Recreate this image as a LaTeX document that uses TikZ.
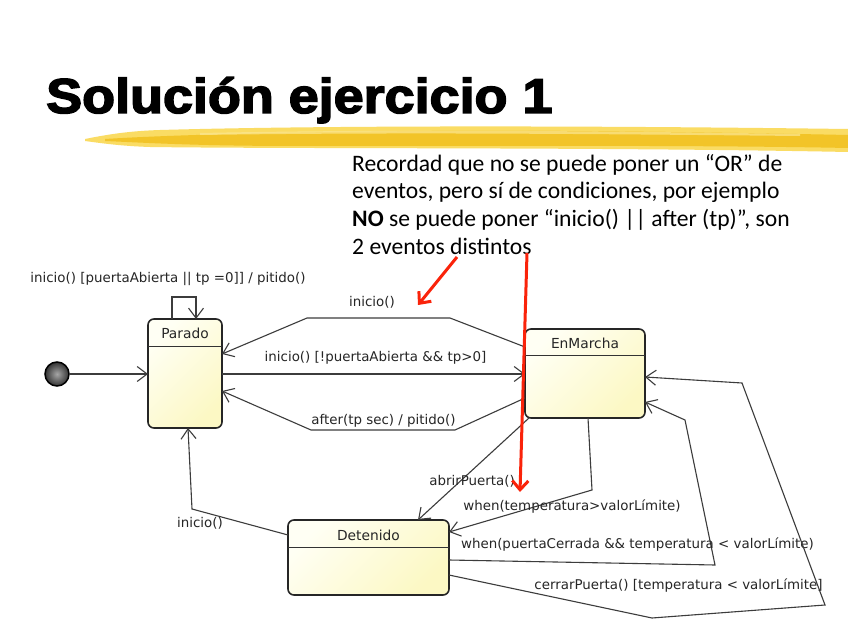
\documentclass[tikz,border=0pt]{standalone}
\usepackage{fontspec}
\setmainfont{DejaVu Sans}
\newfontfamily\notefont{Carlito}
\newfontfamily\titlefont{Liberation Sans}[FakeBold=3]
\usetikzlibrary{arrows.meta,calc}
\definecolor{stlight}{RGB}{255,255,244}
\definecolor{stdark}{RGB}{252,248,196}
\definecolor{edgec}{RGB}{60,60,60}
\definecolor{redc}{RGB}{250,35,10}
\definecolor{brushA}{RGB}{250,220,100}
\definecolor{brushB}{RGB}{242,196,40}
\tikzset{
  st/.style={draw=black!85, line width=1.6pt, rounded corners=6pt, inner sep=0pt, outer sep=0pt,
    shading=axis, top color=stlight, bottom color=stdark, shading angle=45},
  stname/.style={font=\fontsize{13.8}{15}\selectfont, text=black!85},
  divider/.style={draw=black!80, line width=1pt},
  tr/.style={draw=edgec, line width=1.1pt, -{Straight Barb[length=10pt,width=15pt,line width=1.1pt]}},
  lbl/.style={font=\fontsize{13.4}{15}\selectfont, text=black!85, inner sep=0pt},
  redarr/.style={draw=redc, line width=3pt, -{Straight Barb[length=9pt,width=16pt,line width=3pt]}},
  initst/.style={circle, draw=black, line width=1.5pt, minimum size=24pt, inner sep=0pt, outer sep=0pt,
    inner color=black!35, outer color=black!80},
}
\begin{document}
\begin{tikzpicture}[x=1pt,y=-1pt]
\useasboundingbox[fill=white] (0,0) rectangle (848,636);
% brush stroke
\fill[brushA] (85,139) .. controls (110,134) and (130,131) .. (160,130)
  .. controls (300,126) and (540,125) .. (848,129) -- (848,152)
  .. controls (600,147) and (300,149) .. (150,147) .. controls (120,146) and (100,143) .. (85,141) -- cycle;
\fill[brushB] (105,139) .. controls (200,133) and (400,130) .. (560,131)
  .. controls (700,132) and (800,134) .. (848,135) -- (848,148)
  .. controls (700,145) and (500,146) .. (300,146) .. controls (200,146) and (150,143) .. (105,141) -- cycle;
\fill[brushA!70!white, opacity=0.7] (200,133) .. controls (400,129) and (600,131) .. (800,134)
  -- (800,136) .. controls (600,134) and (400,132) .. (200,135) -- cycle;
% title
\node[anchor=base west, inner sep=0pt] (title) at (46,113)
  {\scalebox{1.1}[1]{\titlefont\bfseries\fontsize{49}{55}\selectfont Solución ejercicio 1}};
% note
\node[anchor=north west, inner sep=0pt, align=left,
  font=\notefont\fontsize{23.6}{27.6}\selectfont] (note) at (352,154)
  {Recordad que no se puede poner un “OR” de\\
   eventos, pero sí de condiciones, por ejemplo\\
   \textbf{NO} se puede poner “inicio() || after (tp)”, son\\
   2 eventos distintos};
% states
\node[st, minimum width=74pt, minimum height=109pt] (parado) at (185,373.5) {};
\node[st, minimum width=120pt, minimum height=89pt] (enmarcha) at (585,373.5) {};
\node[st, minimum width=161pt, minimum height=75pt] (detenido) at (368.5,557.5) {};
\draw[divider] (parado.west |- 0,346) -- (parado.east |- 0,346);
\draw[divider] (enmarcha.west |- 0,355) -- (enmarcha.east |- 0,355);
\draw[divider] (detenido.west |- 0,547) -- (detenido.east |- 0,547);
\node[stname] (paradoname) at (185,333) {Parado};
\node[stname] (enmarchaname) at (585,343) {EnMarcha};
\node[stname] (detenidoname) at (368.5,535) {Detenido};
% initial state
\node[initst] (init) at (57,374) {};
\draw[tr] (init) -- (parado.west |- 0,374);
% self loop
\draw[tr] (parado.north -| 172,0) -- (172,297) -- (196,297) -- (parado.north -| 196,0);
\node[lbl] (l1) at (168,279) {inicio() [puertaAbierta || tp =0]] / pitido()};
% EnMarcha -> Parado inicio()
\draw[tr] (enmarcha.west |- 0,347) -- (450,318) -- (307,318) -- (parado.east |- 0,354);
\node[lbl] (l2) at (372,302) {inicio()};
% Parado -> EnMarcha
\draw[tr] (parado.east |- 0,374) -- (enmarcha.west |- 0,374);
\node[lbl] (l3) at (375.5,358) {inicio() [!puertaAbierta \&\& tp>0]};
% EnMarcha -> Parado after
\draw[tr] (enmarcha.west |- 0,398) -- (455,430) -- (311,430) -- (parado.east |- 0,391);
\node[lbl] (l4) at (383.5,421) {after(tp sec) / pitido()};
% EnMarcha -> Detenido abrirPuerta
\draw[tr] (529,418) -- (detenido.north -| 418,0);
\node[lbl, anchor=east] (l5) at (515,481) {abrirPuerta()};
% EnMarcha -> Detenido when temp
\draw[tr] (enmarcha.south -| 588,0) -- (592,490) -- (detenido.east |- 0,532);
\node[lbl] (l6) at (572,507) {when(temperatura>valorLímite)};
% Detenido -> EnMarcha when puertaCerrada
\draw[tr] (detenido.east |- 0,560) -- (715,565) -- (685,420) -- (enmarcha.east |- 0,402);
\node[lbl] (l7) at (637.5,545) {when(puertaCerrada \&\& temperatura < valorLímite)};
% Detenido -> EnMarcha cerrarPuerta
\draw[tr] (detenido.east |- 0,575) -- (652,618) -- (825,605) -- (742,383) -- (enmarcha.east |- 0,377);
\node[lbl] (l8) at (678.5,586) {cerrarPuerta() [temperatura < valorLímite]};
% Detenido -> Parado inicio()
\draw[tr] (detenido.west |- 0,535) -- (192,509) -- (parado.south -| 188,0);
\node[lbl] (l9) at (200,523) {inicio()};
% red arrows
\coordinate (r1s) at (457,257);
\coordinate (r1e) at (418,305);
\coordinate (r2s) at (527,253);
\coordinate (r2e) at (520,492);
\draw[redarr] (r1s) -- (r1e);
\draw[redarr] (r2s) -- (r2e);
\end{tikzpicture}
\end{document}
